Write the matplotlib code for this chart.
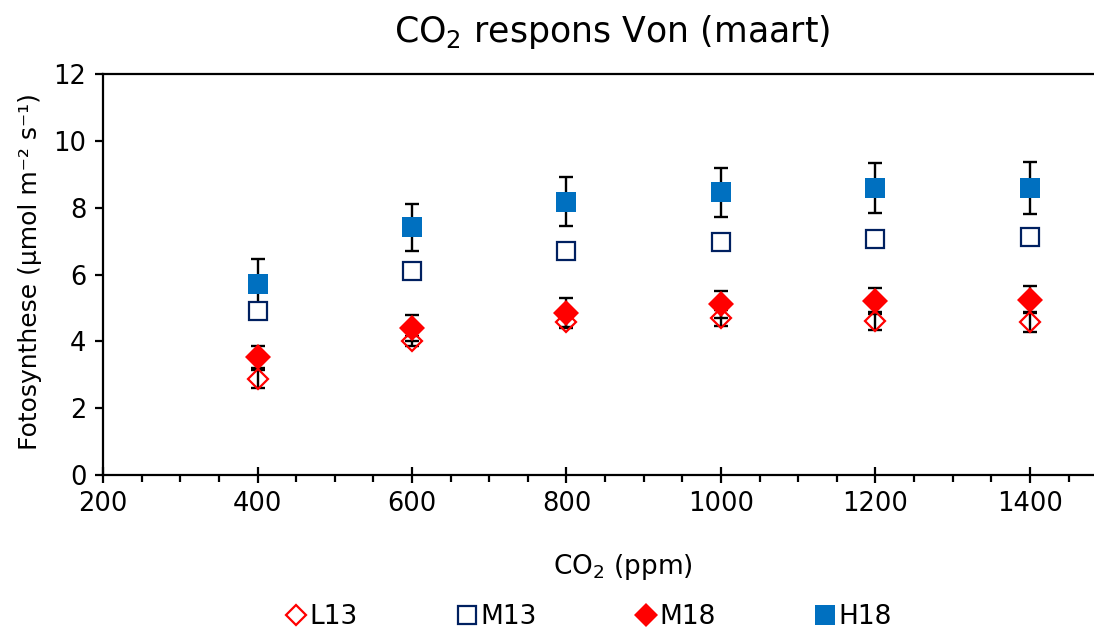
import matplotlib
matplotlib.use("Agg")
import matplotlib.pyplot as plt
from matplotlib.ticker import MultipleLocator

# CO2 concentration steps (ppm)
co2 = [400, 600, 800, 1000, 1200, 1400]

# photosynthesis per treatment (umol m-2 s-1) with standard errors
l13 = [2.88, 4.00, 4.59, 4.70, 4.60, 4.57]
l13_err = [0.27, 0.15, 0.20, 0.25, 0.27, 0.30]
m13 = [4.91, 6.11, 6.69, 6.96, 7.07, 7.13]
m18 = [3.53, 4.40, 4.86, 5.11, 5.21, 5.25]
m18_err = [0.34, 0.38, 0.43, 0.40, 0.38, 0.40]
h18 = [5.73, 7.41, 8.18, 8.46, 8.58, 8.58]
h18_err = [0.72, 0.71, 0.74, 0.73, 0.75, 0.78]

plt.rcParams['font.family'] = ['DejaVu Sans']
plt.rcParams['mathtext.default'] = 'regular'

fig = plt.figure(figsize=(10.94, 6.31), dpi=100)
ax = fig.add_axes([0.0942, 0.2472, 0.9058, 0.6355])

# error bars first, so the markers sit on top of them
eb = dict(fmt='none', ecolor='black', elinewidth=1.7, capsize=5, capthick=1.7, zorder=1)
ax.errorbar(co2, l13, yerr=l13_err, **eb)
ax.errorbar(co2, m18, yerr=m18_err, **eb)
ax.errorbar(co2, h18, yerr=h18_err, **eb)

ax.plot(co2, l13, ls='none', marker='D', ms=10.5, mfc='none', mec='#ff0000', mew=1.6,
        label='L13', zorder=2)
ax.plot(co2, m13, ls='none', marker='s', ms=13.5, mfc='white', mec='#002060', mew=1.6,
        label='M13', zorder=3)
ax.plot(co2, m18, ls='none', marker='D', ms=13, mfc='#ff0000', mec='#ff0000', mew=0,
        label='M18', zorder=4)
ax.plot(co2, h18, ls='none', marker='s', ms=14.5, mfc='#0070c0', mec='#0070c0', mew=0,
        label='H18', zorder=5)

ax.set_xlim(200, 1483)
ax.set_ylim(0, 12)
ax.xaxis.set_major_locator(MultipleLocator(200))
ax.xaxis.set_minor_locator(MultipleLocator(50))
ax.yaxis.set_major_locator(MultipleLocator(2))

for s in ['left', 'bottom', 'top']:
    ax.spines[s].set_linewidth(1.6)
ax.spines['right'].set_visible(False)
ax.tick_params(axis='x', which='major', direction='inout', length=11, width=1.6,
               labelsize=18.5, pad=6)
ax.tick_params(axis='x', which='minor', direction='out', length=5, width=1.6)
ax.tick_params(axis='y', which='major', direction='out', length=6, width=1.6,
               labelsize=18.5, pad=6)

fig.text(0.56, 0.949, 'CO$_2$ respons Von (maart)', ha='center', va='center', fontsize=25)
fig.text(0.569, 0.101, 'CO$_2$ (ppm)', ha='center', va='center', fontsize=19)
fig.text(0.027, 0.569, 'Fotosynthese (µmol m⁻² s⁻¹)', ha='center', va='center',
         rotation=90, fontsize=18)

fig.legend(loc='center', bbox_to_anchor=(0.539, 0.022), ncol=4, frameon=False,
           fontsize=19, markerscale=0.95, handlelength=0.6, handletextpad=0.2,
           columnspacing=3.85)

fig.savefig('out.png', dpi=100)
